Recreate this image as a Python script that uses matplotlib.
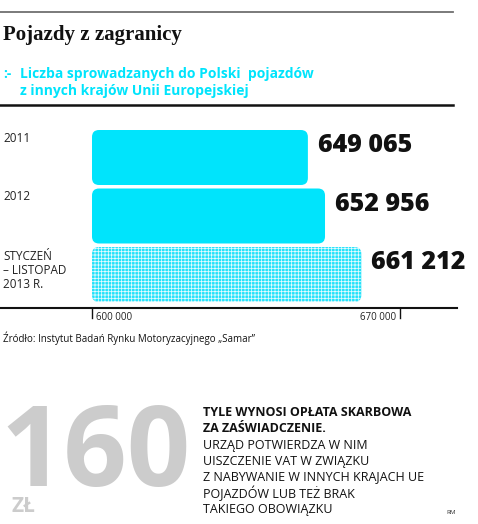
import numpy as np
import matplotlib
matplotlib.use('Agg')
import matplotlib.pyplot as plt
from matplotlib.patches import FancyBboxPatch

# data
categories = ['2011', '2012', 'STYCZEŃ\n– LISTOPAD\n2013 R.']
values = [649065, 652956, 661212]
value_labels = ['649 065', '652 956', '661 212']
tick_values = [600000, 670000]
tick_labels = ['600 000', '670 000']
dotted = [False, False, True]

W, H = 478, 524
CYAN = '#00e4fc'
SANS = 'Open Sans'
plt.rcParams['hatch.linewidth'] = 0.55


def fy(y):
    # pixel (from top) -> figure fraction
    return 1 - y / H


def fx(x):
    return x / W


fig = plt.figure(figsize=(W / 100, H / 100), dpi=100)

# header
fig.add_artist(plt.Line2D([0, fx(453)], [fy(12), fy(12)], color='#707070', lw=1.3))
fig.text(fx(3), fy(35), 'Pojazdy z zagranicy', family='Liberation Serif', weight='bold',
         fontsize=15, va='center', ha='left', color='#111111')
fig.text(fx(3), fy(74), ':-', family=SANS, weight='bold', fontsize=10, color=CYAN,
         va='center', ha='left')
fig.text(fx(20), fy(74), 'Liczba sprowadzanych do Polski  pojazdów', family=SANS,
         weight='bold', fontsize=10, color=CYAN, va='center', ha='left')
fig.text(fx(20), fy(91), 'z innych krajów Unii Europejskiej', family=SANS,
         weight='bold', fontsize=10, color=CYAN, va='center', ha='left')
fig.add_artist(plt.Line2D([0, fx(453)], [fy(105), fy(105)], color='#111111', lw=1.8))

# bar chart axes, pixels 110..330 vertically, full width
ax = fig.add_axes([0, fy(330), 1, (330 - 110) / H])
scale = 0.0044  # px per unit
x0 = 600000 - 92 / scale
ax.set_xlim(x0, x0 + W / scale)
step = 58.5
ax.set_ylim((330 - 157.5) / step, (110 - 157.5) / step)
ax.axis('off')

bar_h = 55 / step
rx = 7 / scale
ry = 7 / step
for i, (v, lab, dot) in enumerate(zip(values, value_labels, dotted)):
    w = v - tick_values[0]
    if dot:
        p = FancyBboxPatch((tick_values[0] + rx, i - bar_h / 2 + ry), w - 2 * rx, bar_h - 2 * ry,
                           boxstyle=f'round,pad={rx},rounding_size={rx}',
                           mutation_aspect=ry / rx, facecolor='#22e2fa', edgecolor='#e6fbff',
                           hatch='+++++', lw=0)
    else:
        p = FancyBboxPatch((tick_values[0] + rx, i - bar_h / 2 + ry), w - 2 * rx, bar_h - 2 * ry,
                           boxstyle=f'round,pad={rx},rounding_size={rx}',
                           mutation_aspect=ry / rx, facecolor=CYAN, edgecolor='none', lw=0)
    ax.add_patch(p)
    ax.text(v + 10 / scale, i - 0.2, lab, family=SANS, weight=800, fontsize=18,
            va='center', ha='left', color='#111111')
    ax.text(x0 + 3 / scale, i - 0.33 if i < 2 else i - 0.07, categories[i], family=SANS,
            fontsize=8.5, va='center', ha='left', color='#222222', linespacing=1.1)

# axis line and ticks
axis_y = (308 - 157.5) / step
ax.plot([x0, x0 + 457 / scale], [axis_y, axis_y], color='#111111', lw=1.5, clip_on=False)
for t, tl in zip(tick_values, tick_labels):
    ax.plot([t, t], [axis_y, axis_y + 10 / step], color='#111111', lw=1)
ax.text(tick_values[0] + 4 / scale, axis_y + 9 / step, tick_labels[0], family=SANS,
        fontsize=7, va='center', ha='left', color='#222222')
ax.text(tick_values[1] - 4 / scale, axis_y + 9 / step, tick_labels[1], family=SANS,
        fontsize=7, va='center', ha='right', color='#222222')

fig.text(fx(3), fy(338), 'Źródło: Instytut Badań Rynku Motoryzacyjnego „Samar”', family=SANS,
         fontsize=7, va='center', ha='left', color='#111111')

# bottom box
fig.text(fx(0), fy(486), '160', family=SANS, weight='bold', fontsize=80,
         color='#cccccc', va='baseline', ha='left')
fig.text(fx(12), fy(512), 'ZŁ', family=SANS, weight='bold', fontsize=15,
         color='#cccccc', va='baseline', ha='left')

bold_lines = ['TYLE WYNOSI OPŁATA SKARBOWA', 'ZA ZAŚWIADCZENIE.']
reg_lines = ['URZĄD POTWIERDZA W NIM', 'UISZCZENIE VAT W ZWIĄZKU',
             'Z NABYWANIE W INNYCH KRAJACH UE', 'POJAZDÓW LUB TEŻ BRAK',
             'TAKIEGO OBOWIĄZKU']
yy = 413
for ln in bold_lines:
    fig.text(fx(203), fy(yy), ln, family=SANS, weight='bold', fontsize=9,
             va='center', ha='left', color='#111111')
    yy += 16
for ln in reg_lines:
    fig.text(fx(203), fy(yy), ln, family=SANS, fontsize=9,
             va='center', ha='left', color='#111111')
    yy += 16
fig.text(fx(446), fy(513), 'RM', family=SANS, fontsize=4.5, va='center', ha='left',
         color='#333333')

fig.savefig('out.png', dpi=100)
